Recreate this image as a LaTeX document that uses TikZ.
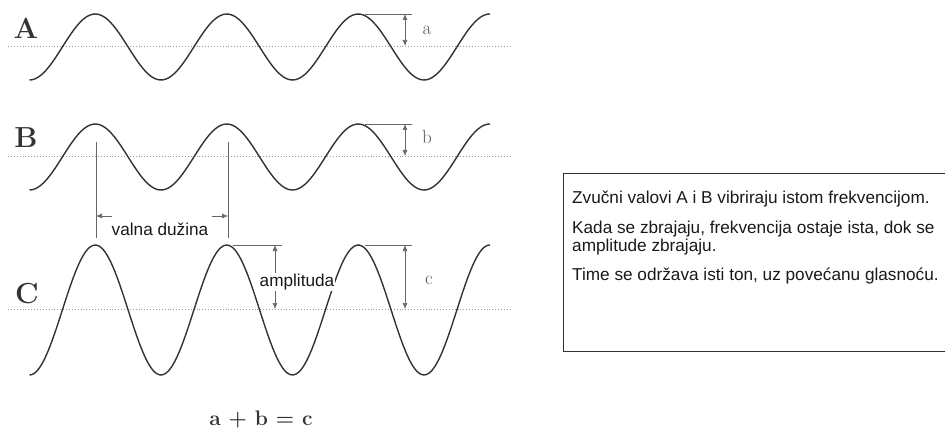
\documentclass[tikz,border=0pt]{standalone}
\usepackage{fontspec}
\newfontfamily\notefont{Liberation Sans}
\usetikzlibrary{arrows.meta,positioning}

\begin{document}
\begin{tikzpicture}[x=1pt,y=-1pt,>={Latex[length=6pt,width=5pt]}]
  \tikzstyle{wave}=[draw=black!80,line width=1.4pt,smooth,samples=160]
  \tikzstyle{axis}=[draw=black!40,dotted,line width=0.9pt]
  \tikzstyle{guide}=[draw=black!60,line width=0.6pt]
  \tikzstyle{tag}=[font=\fontsize{29}{29}\selectfont\bfseries,text=black!80]
  \tikzstyle{small}=[font=\fontsize{19}{19}\selectfont,text=black!65]
  \tikzstyle{sans}=[font=\notefont\fontsize{17.2}{17.2}\selectfont,text=black!90]
  \useasboundingbox (0,0) rectangle (945,433);
  \clip (0,0) rectangle (945,433);

  % waves
  \draw[axis] (8,46) -- (510,46);
  \draw[axis] (8,156) -- (510,156);
  \draw[axis] (8,309) -- (510,309);
  \draw[wave] plot[domain=29.5:490] (\x,{47-33*cos(2.73764*(\x-95.25))});
  \draw[wave] plot[domain=29.5:490] (\x,{157-33*cos(2.73764*(\x-95.25))});
  \draw[wave] plot[domain=29.5:490] (\x,{310-65*cos(2.73764*(\x-95.25))});
  \node[tag] (A) at (26,28) {A};
  \node[tag] (B) at (26,138) {B};
  \node[tag] (C) at (27,294) {C};

  % amplitudes a, b, c
  \coordinate (aTop) at (405,14);
  \coordinate (aMid) at (405,46);
  \coordinate (bTop) at (405,124);
  \coordinate (bMid) at (405,156);
  \coordinate (cTop) at (405,245);
  \coordinate (cMid) at (405,309);
  \draw[guide] (365,14) -- (412,14);
  \draw[guide] (365,124) -- (412,124);
  \draw[guide] (365,245) -- (412,245);
  \draw[guide,<->] (aTop) -- (aMid);
  \draw[guide,<->] (bTop) -- (bMid);
  \draw[guide,<->] (cTop) -- (cMid);
  \node[small] (la) at (427,30) {a};
  \node[small] (lb) at (427,137) {b};
  \node[small] (lc) at (429,280) {c};

  % valna duzina
  \coordinate (lamL) at (96,216);
  \coordinate (lamR) at (228,216);
  \draw[guide] (96,142) -- (96,238);
  \draw[guide] (228,142) -- (228,238);
  \draw[guide,->] (112,216) -- (lamL);
  \draw[guide,->] (212,216) -- (lamR);
  \node[sans] (lam) at (160,229) {valna dužina};

  % amplituda
  \coordinate (ampTop) at (275,245);
  \coordinate (ampBot) at (275,309);
  \draw[guide] (233,245) -- (282,245);
  \draw[guide,<->] (ampTop) -- (ampBot);
  \node[sans,fill=white,inner sep=1pt] (amp) at (297,282) {amplituda};

  \node[font=\fontsize{21}{21}\selectfont\bfseries,text=black!80] (sum) at (261,420) {a + b = c};

  % tekst
  \node[draw=black!80,line width=1.3pt,minimum width=400pt,minimum height=178pt,anchor=north west] (note) at (563,173) {};
  \node[sans,align=left,anchor=north west,inner sep=0pt] (txt) at (572,191) {Zvučni valovi A i B vibriraju istom frekvencijom.\\[13pt]
    Kada se zbrajaju, frekvencija ostaje ista, dok se\\
    amplitude zbrajaju.\\[12pt]
    Time se održava isti ton, uz povećanu glasnoću.};
\end{tikzpicture}
\end{document}
